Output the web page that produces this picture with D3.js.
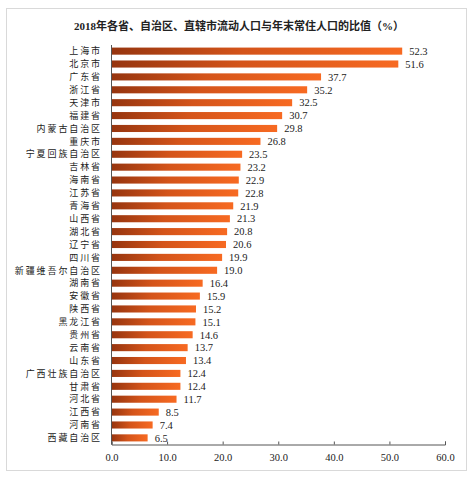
<!DOCTYPE html>
<html>
<head>
<meta charset="utf-8">
<script src="https://cdn.jsdelivr.net/npm/d3@7.9.0/dist/d3.min.js"></script>
<style>
  html, body { margin: 0; padding: 0; background: #fff; }
  svg { display: block; }
  text { font-family: "Liberation Serif", "Noto Sans CJK SC", serif; fill: #222; }
</style>
</head>
<body>
<svg id="chart" width="474" height="477"></svg>
<script>
// provinces, top to bottom
const regions = ['上海市', '北京市', '广东省', '浙江省', '天津市', '福建省', '内蒙古自治区', '重庆市',
  '宁夏回族自治区', '吉林省', '海南省', '江苏省', '青海省', '山西省', '湖北省', '辽宁省', '四川省',
  '新疆维吾尔自治区', '湖南省', '安徽省', '陕西省', '黑龙江省', '贵州省', '云南省', '山东省',
  '广西壮族自治区', '甘肃省', '河北省', '江西省', '河南省', '西藏自治区'];
const ratios = [52.3, 51.6, 37.7, 35.2, 32.5, 30.7, 29.8, 26.8, 23.5, 23.2, 22.9, 22.8, 21.9, 21.3,
  20.8, 20.6, 19.9, 19.0, 16.4, 15.9, 15.2, 15.1, 14.6, 13.7, 13.4, 12.4, 12.4, 11.7, 8.5, 7.4, 6.5];
const xTicks = [0, 10, 20, 30, 40, 50, 60];

const svg = d3.select('#chart');

// outer frame
svg.append('rect')
  .attr('x', 6.5).attr('y', 8.5).attr('width', 460).attr('height', 462)
  .attr('fill', '#fff').attr('stroke', '#d9d9d9');

svg.append('text')
  .attr('x', 239).attr('y', 30)
  .attr('text-anchor', 'middle')
  .style('font-size', '11px').style('font-weight', 'bold')
  .text('2018年各省、自治区、直辖市流动人口与年末常住人口的比值（%）');

const x = d3.scaleLinear().domain([0, 60]).range([111.5, 445]);
const y = d3.scaleBand().domain(regions).range([45, 444]).paddingInner(0.45).paddingOuter(0.2);

const grad = svg.append('defs').append('linearGradient')
  .attr('id', 'barGrad').attr('x1', 0).attr('x2', 1).attr('y1', 0).attr('y2', 0);
grad.append('stop').attr('offset', '0%').attr('stop-color', '#96350f');
grad.append('stop').attr('offset', '45%').attr('stop-color', '#d4541a');
grad.append('stop').attr('offset', '100%').attr('stop-color', '#f76a22');

const data = regions.map((r, i) => ({ name: r, value: ratios[i] }));

svg.selectAll('rect.bar')
  .data(data)
  .enter()
  .append('rect')
    .attr('class', 'bar')
    .attr('x', x(0))
    .attr('y', d => y(d.name))
    .attr('width', d => x(d.value) - x(0))
    .attr('height', y.bandwidth())
    .attr('fill', 'url(#barGrad)');

// value labels
svg.selectAll('text.val')
  .data(data)
  .enter()
  .append('text')
    .attr('class', 'val')
    .attr('x', d => x(d.value) + 7)
    .attr('y', d => y(d.name) + y.bandwidth() / 2)
    .attr('dy', '0.36em')
    .style('font-size', '10.5px')
    .text(d => d.value.toFixed(1));

// category labels
svg.selectAll('text.cat')
  .data(data)
  .enter()
  .append('text')
    .attr('class', 'cat')
    .attr('x', 102)
    .attr('y', d => y(d.name) + y.bandwidth() / 2)
    .attr('dy', '0.36em')
    .attr('text-anchor', 'end')
    .style('font-size', '9px')
    .style('font-family', '"Noto Sans CJK SC", sans-serif')
    .style('letter-spacing', '1.9px')
    .text(d => d.name);

// y axis line
svg.append('line')
  .attr('x1', x(0)).attr('x2', x(0))
  .attr('y1', 45).attr('y2', 444.5)
  .attr('stroke', '#555').attr('stroke-width', 1);

// x axis with small upward ticks
const xAxis = svg.append('g')
  .attr('transform', 'translate(0,444.5)')
  .call(d3.axisBottom(x).tickValues(xTicks).tickSize(-3).tickPadding(9).tickFormat(d3.format('.1f')));
xAxis.select('.domain').attr('stroke', '#555');
xAxis.selectAll('.tick line').attr('stroke', '#555');
xAxis.selectAll('.tick text')
  .style('font-size', '10.5px')
  .style('font-family', '"Liberation Serif", serif')
  .attr('fill', '#333');
</script>
</body>
</html>
